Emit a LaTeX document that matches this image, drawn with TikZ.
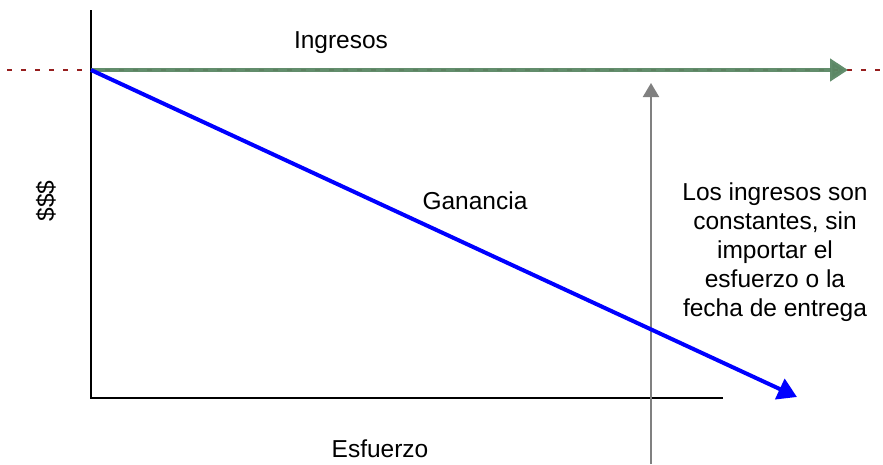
\documentclass[tikz,border=0pt]{standalone}
\usepackage{fontspec}
\setmainfont{Liberation Sans}
\usetikzlibrary{arrows.meta}
\definecolor{ingreen}{RGB}{90,135,100}
\definecolor{dred}{RGB}{150,30,30}
\definecolor{gblue}{RGB}{0,0,255}
\tikzset{
  lbl/.style={font=\fontsize{24.5}{29}\selectfont, inner sep=0pt},
  axis/.style={line width=2pt, black},
}
\begin{document}
\begin{tikzpicture}[x=1pt,y=-1pt]
\useasboundingbox (0,0) rectangle (883,464);
% reference dashed line
\coordinate (dl) at (7,70);
\coordinate (dr) at (883,70);
\draw[dred, line width=2pt, dash pattern=on 5pt off 9pt] (dl) -- (dr);
% axes
\coordinate (o) at (91,70);
\coordinate (top) at (91,10);
\coordinate (corner) at (91,398);
\coordinate (xend) at (723,398);
\draw[axis] (top) -- (corner) -- (xend);
% ingresos arrow
\coordinate (gend) at (848,70);
\draw[ingreen, line width=4.5pt, opacity=0.95, -{Triangle[length=18pt,width=22pt]}] (o) -- (gend);
% gray arrow
\coordinate (gb) at (651,464);
\coordinate (gt) at (651,83);
\draw[gray, line width=2pt, -{Triangle[length=14pt,width=16pt]}] (gb) -- (gt);
% blue arrow
\coordinate (bend) at (797,397);
\draw[gblue, line width=4pt, -{Triangle[length=19pt,width=22pt]}] (o) -- (bend);
% labels
\node[lbl] (ing) at (341,43) {Ingresos};
\node[lbl] (gan) at (475,201) {Ganancia};
\node[lbl, rotate=90] (dol) at (46,201) {\$\$\$};
\node[lbl] (esf) at (380,449) {Esfuerzo};
\node[lbl, align=center] (note) at (775,252) {Los ingresos son\\constantes, sin\\importar el\\esfuerzo o la\\fecha de entrega};
\end{tikzpicture}
\end{document}
